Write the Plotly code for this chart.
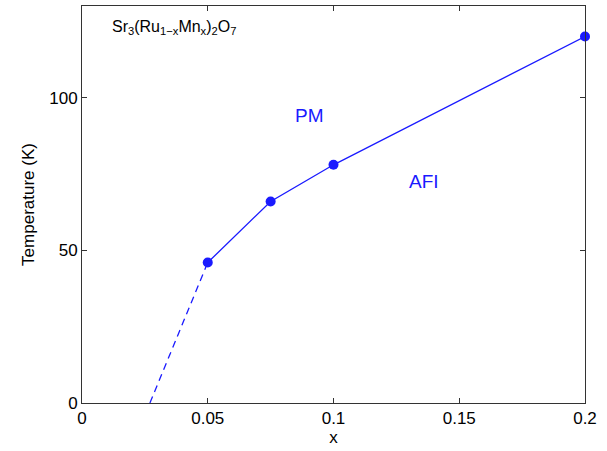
import plotly.graph_objects as go

# measured transition points
x_pts = [0.05, 0.075, 0.1, 0.2]
t_pts = [46, 66, 78, 120]

# extrapolated dashed segment down to T = 0
x_ext = [0.027, 0.05]
t_ext = [0, 46]

x_ticks = [0, 0.05, 0.1, 0.15, 0.2]
x_ticklabels = ["0", "0.05", "0.1", "0.15", "0.2"]
y_ticks = [0, 50, 100]

blue = "#1a1aff"

fig = go.Figure()
fig.add_trace(go.Scatter(x=x_ext, y=t_ext, mode="lines",
                         line=dict(color=blue, width=1.3, dash="7px,5px"),
                         showlegend=False, cliponaxis=False))
fig.add_trace(go.Scatter(x=x_pts, y=t_pts, mode="lines+markers",
                         line=dict(color=blue, width=1.3),
                         marker=dict(color=blue, size=10),
                         showlegend=False, cliponaxis=False))

fig.add_annotation(x=0.0905, y=94, text="PM", showarrow=False,
                   font=dict(size=19, color=blue))
fig.add_annotation(x=0.136, y=72.5, text="AFI", showarrow=False,
                   font=dict(size=19, color=blue))
fig.add_annotation(x=0.011, y=123, xanchor="left",
                   text="Sr<sub>3</sub>(Ru<sub>1\u2212x</sub>Mn<sub>x</sub>)<sub>2</sub>O<sub>7</sub>",
                   showarrow=False, font=dict(size=16, color="black"))

axis_common = dict(showline=True, linecolor="#333333", linewidth=1, mirror="ticks",
                   ticks="inside", ticklen=5, tickcolor="#333333", showgrid=False,
                   zeroline=False, tickfont=dict(size=17, color="black"))

fig.update_xaxes(range=[0, 0.2], tickvals=x_ticks, ticktext=x_ticklabels,
                 title=dict(text="x", font=dict(size=17, color="black"), standoff=2),
                 automargin=False, **axis_common)
fig.update_yaxes(range=[0, 130], tickvals=y_ticks,
                 title=dict(text="Temperature (K)", font=dict(size=17, color="black"), standoff=10),
                 automargin=False, **axis_common)

fig.update_layout(width=607, height=451, margin=dict(l=82, r=22, t=6, b=48),
                  plot_bgcolor="white", paper_bgcolor="white",
                  font=dict(family="Liberation Sans, Arial, sans-serif"))

fig.write_html("out.html", config={"displayModeBar": False},
               post_script="document.body.style.margin='0';")
